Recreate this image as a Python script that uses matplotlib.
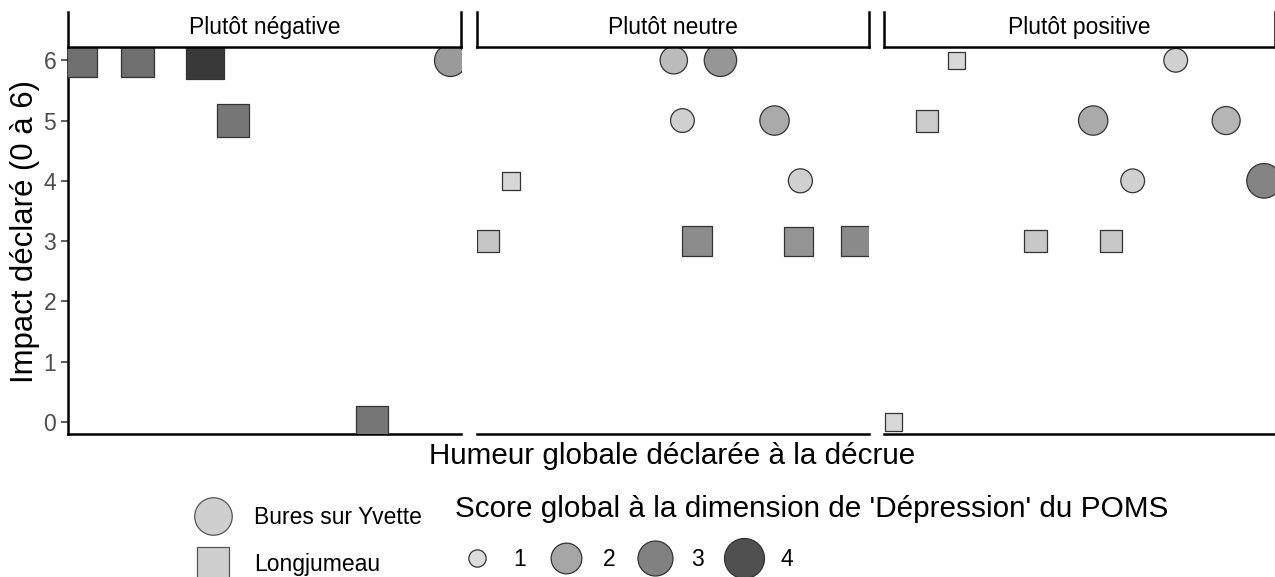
import numpy as np
import matplotlib
matplotlib.use('Agg')
import matplotlib.pyplot as plt
from matplotlib.lines import Line2D

plt.rcParams['font.family'] = ['Liberation Sans', 'DejaVu Sans']

# facets (humeur globale declaree a la decrue)
panels = ['Plutôt négative', 'Plutôt neutre', 'Plutôt positive']

# one entry per respondent
humeur = [0, 0, 0, 0, 0, 0,
          1, 1, 1, 1, 1, 1, 1, 1, 1, 1,
          2, 2, 2, 2, 2, 2, 2, 2, 2, 2]
jitter_x = [0.031, 0.177, 0.349, 0.420, 0.774, 0.972,
            0.502, 0.621, 0.524, 0.759, 0.825, 0.086, 0.028, 0.562, 0.821, 0.966,
            0.185, 0.111, 0.746, 0.535, 0.875, 0.636, 0.972, 0.387, 0.581, 0.025]
impact = [6, 6, 6, 5, 0, 6,
          6, 6, 5, 5, 4, 4, 3, 3, 3, 3,
          6, 5, 6, 5, 5, 4, 4, 3, 3, 0]
commune = ['Longjumeau', 'Longjumeau', 'Longjumeau', 'Longjumeau', 'Longjumeau', 'Bures sur Yvette',
           'Bures sur Yvette', 'Bures sur Yvette', 'Bures sur Yvette', 'Bures sur Yvette', 'Bures sur Yvette',
           'Longjumeau', 'Longjumeau', 'Longjumeau', 'Longjumeau', 'Longjumeau',
           'Longjumeau', 'Longjumeau', 'Bures sur Yvette', 'Bures sur Yvette', 'Bures sur Yvette',
           'Bures sur Yvette', 'Bures sur Yvette', 'Longjumeau', 'Longjumeau', 'Longjumeau']
score = [3.45, 3.45, 4.45, 3.3, 3.3, 2.3,
         1.75, 2.4, 1.48, 1.9, 1.5, 1.22, 1.62, 2.65, 2.45, 2.7,
         1.16, 1.56, 1.48, 1.9, 1.8, 1.48, 2.9, 1.6, 1.6, 1.17]
score_breaks = [1, 2, 3, 4]

# score -> diameter (px) and grey level
size_nodes = ([1, 2, 3, 4, 4.5], [17.3, 30.7, 35, 40, 42.5])
grey_nodes = ([1, 1.5, 1.7, 1.9, 2.3, 2.7, 3.3, 3.5, 4, 4.5],
              [0xdc, 0xd0, 0xc0, 0xaa, 0x9a, 0x8a, 0x77, 0x6c, 0x50, 0x36])


def diam_pt(s):
    return np.interp(s, *size_nodes) * 0.72


def grey(s):
    g = np.interp(s, *grey_nodes) / 255
    return (g, g, g)


W, H = 1275, 577


def rect(l, t, r, b):
    return [l / W, 1 - b / H, (r - l) / W, (b - t) / H]


fig = plt.figure(figsize=(12.75, 5.77), dpi=100)
edges = [(68, 461), (477, 869), (884, 1275)]
markers = {'Bures sur Yvette': 'o', 'Longjumeau': 's'}

for i, (l, r) in enumerate(edges):
    ax = fig.add_axes(rect(l, 47, r, 434))
    for c, m in markers.items():
        idx = [k for k in range(len(score)) if humeur[k] == i and commune[k] == c]
        if not idx:
            continue
        s = np.array([score[k] for k in idx])
        d = diam_pt(s)
        if m == 's':
            d = d * 0.886
        ax.scatter([jitter_x[k] for k in idx], [impact[k] for k in idx], s=d ** 2,
                   marker=m, c=[grey(v) for v in s], edgecolors='#333333', linewidths=0.9, zorder=3)
    ax.set_xlim(0, 1)
    ax.set_ylim(-0.2, 6.22)
    ax.set_xticks([])
    for sp in ['top', 'right']:
        ax.spines[sp].set_visible(False)
    ax.spines['bottom'].set_linewidth(1.8)
    if i == 0:
        ax.spines['left'].set_linewidth(1.8)
        ax.set_yticks(range(7))
        ax.tick_params(axis='y', labelsize=16.5, labelcolor='#4d4d4d', color='#333333',
                       length=5, width=1.1, pad=3.5)
    else:
        ax.spines['left'].set_visible(False)
        ax.set_yticks([])

    # strip
    st = fig.add_axes(rect(l, 12, r, 47))
    st.set_xticks([])
    st.set_yticks([])
    st.spines['top'].set_visible(False)
    for sp in ['left', 'right', 'bottom']:
        st.spines[sp].set_linewidth(1.8)
    st.text(0.5, 0.57, panels[i], ha='center', va='center', fontsize=16.5, transform=st.transAxes)

fig.text(25 / W, 1 - 232 / H, 'Impact déclaré (0 à 6)', rotation=90, ha='center', va='center', fontsize=22.4)
fig.text(672 / W, 1 - 456 / H, 'Humeur globale déclarée à la décrue', ha='center', va='center', fontsize=21.3)

# legends
shape_handles = [Line2D([], [], ls='none', marker='o', markersize=27, markerfacecolor='#cfcfcf',
                        markeredgecolor='#555555', markeredgewidth=0.9),
                 Line2D([], [], ls='none', marker='s', markersize=23.5, markerfacecolor='#cfcfcf',
                        markeredgecolor='#555555', markeredgewidth=0.9)]
leg1 = fig.legend(shape_handles, list(markers.keys()), loc='upper left',
                  bbox_to_anchor=(196 / W, 1 - 506 / H), frameon=False, fontsize=16.5,
                  handlelength=1.5, handletextpad=1.02, labelspacing=1.03, borderpad=0, borderaxespad=0)

score_handles = [Line2D([], [], ls='none', marker='o', markersize=diam_pt(b), markerfacecolor=grey(b),
                        markeredgecolor='#333333', markeredgewidth=0.9) for b in score_breaks]
leg2 = fig.legend(score_handles, [str(b) for b in score_breaks], loc='upper left', ncol=4,
                  bbox_to_anchor=(455 / W, 1 - 495 / H), frameon=False, fontsize=16.5,
                  title="Score global à la dimension de 'Dépression' du POMS", title_fontsize=21.4,
                  handlelength=1.9, handletextpad=0.65, columnspacing=0.78, labelspacing=1.1,
                  borderpad=0, borderaxespad=0)
leg2._legend_box.align = 'left'

fig.savefig('out.png', dpi=100)
